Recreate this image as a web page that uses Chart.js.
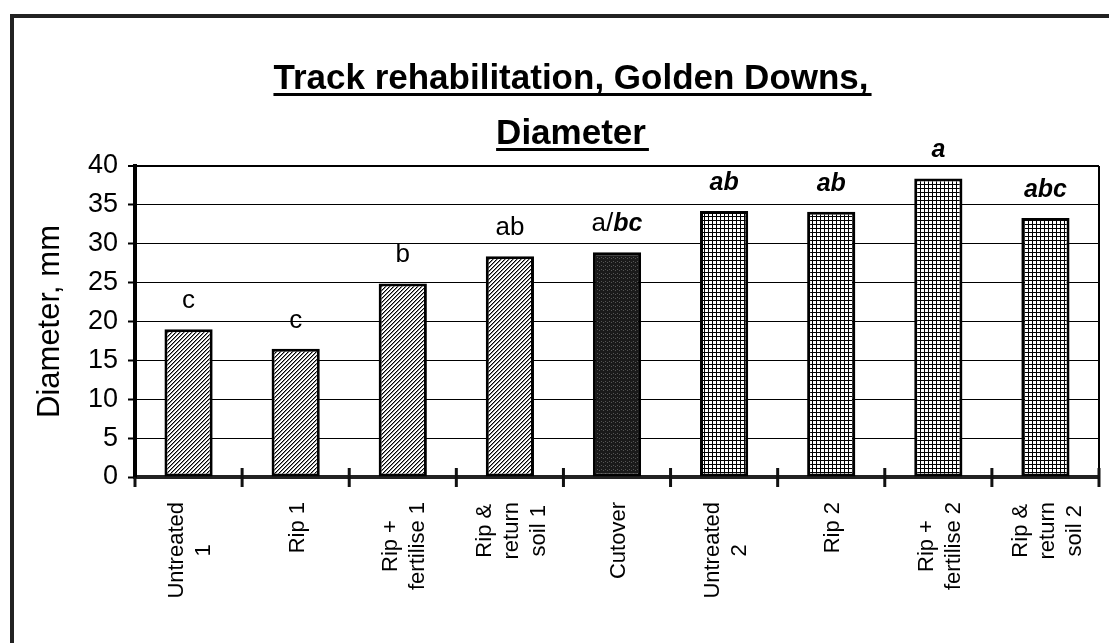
<!DOCTYPE html>
<html><head><meta charset="utf-8">
<script src="https://cdn.jsdelivr.net/npm/chart.js@4.4.1/dist/chart.umd.min.js"></script>
<style>html,body{margin:0;padding:0;background:#fff;} canvas{display:block;}</style>
</head><body>
<canvas id="c" width="1109" height="643"></canvas>
<script>
// ---------- data ----------
const categories = [
  ['Untreated','1'], ['Rip 1'], ['Rip +','fertilise 1'], ['Rip &','return','soil 1'],
  ['Cutover'], ['Untreated','2'], ['Rip 2'], ['Rip +','fertilise 2'], ['Rip &','return','soil 2']
];
const diameters = [19.0, 16.5, 24.9, 28.4, 28.9, 34.2, 34.1, 38.4, 33.3];
const lettersPlain      = ['c','c','b','ab','a/','','','',''];
const lettersBoldItalic = ['','','','','bc','ab','ab','a','abc'];
const fillKinds = ['hatch','hatch','hatch','hatch','dark','grid','grid','grid','grid'];
const yTickValues = [0,5,10,15,20,25,30,35,40];
const titleLines = ['Track rehabilitation, Golden Downs,','Diameter'];
const yAxisTitle = 'Diameter, mm';

// ---------- styles ----------
const FONT = '"Liberation Sans", Arial, Helvetica, sans-serif';

function makePattern(kind){
  const t = document.createElement('canvas');
  t.width = 4; t.height = 4;
  const g = t.getContext('2d');
  if (kind === 'hatch') {
    g.fillStyle = '#fff'; g.fillRect(0,0,4,4);
    g.fillStyle = '#000';
    for (let i=0;i<4;i++) g.fillRect(i, 3-i, 1, 1);
    g.fillStyle = '#888';
    for (let i=0;i<4;i++) g.fillRect(i, (4-i)%4, 1, 1);
  } else if (kind === 'grid') {
    g.fillStyle = '#fff'; g.fillRect(0,0,4,4);
    g.fillStyle = '#000';
    g.fillRect(0,0,4,1); g.fillRect(0,0,1,4);
  } else {
    g.fillStyle = '#1a1a1a'; g.fillRect(0,0,4,4);
    g.fillStyle = '#555';
    g.fillRect(1,1,1,1); g.fillRect(3,2,1,1);
  }
  return g.createPattern(t, 'repeat');
}
const patterns = {hatch: makePattern('hatch'), grid: makePattern('grid'), dark: makePattern('dark')};

const decor = {
  id: 'decor',
  beforeDraw(chart){
    const ctx = chart.ctx;
    ctx.save();
    ctx.fillStyle = '#fff';
    ctx.fillRect(0,0,chart.width,chart.height);
    ctx.strokeStyle = '#222';
    ctx.lineWidth = 4;
    ctx.beginPath();
    ctx.moveTo(12, chart.height + 10);
    ctx.lineTo(12, 16);
    ctx.lineTo(chart.width + 10, 16);
    ctx.stroke();
    ctx.restore();
  },
  afterDatasetsDraw(chart){
    const ctx = chart.ctx;
    const meta = chart.getDatasetMeta(0);
    ctx.save();
    ctx.fillStyle = '#000';
    ctx.textBaseline = 'alphabetic';
    ctx.textAlign = 'left';
    meta.data.forEach((bar, i) => {
      const fPlain = '26px ' + FONT;
      const fBI = 'italic bold 25px ' + FONT;
      ctx.font = fPlain; const w1 = ctx.measureText(lettersPlain[i]).width;
      ctx.font = fBI; const w2 = ctx.measureText(lettersBoldItalic[i]).width;
      let x = bar.x - (w1 + w2) / 2;
      const y = bar.y - 21;
      ctx.font = fPlain; ctx.fillText(lettersPlain[i], x, y);
      ctx.font = fBI; ctx.fillText(lettersBoldItalic[i], x + w1, y);
    });
    ctx.restore();
  },
  afterDraw(chart){
    const ctx = chart.ctx;
    const area = chart.chartArea;
    const xs = chart.scales.x;
    ctx.save();
    // right border of plot
    ctx.strokeStyle = '#000';
    ctx.lineWidth = 2;
    ctx.beginPath();
    ctx.moveTo(area.right, area.top);
    ctx.lineTo(area.right, area.bottom);
    ctx.stroke();
    // category boundary ticks
    ctx.strokeStyle = '#111';
    ctx.lineWidth = 3;
    const n = categories.length;
    for (let i = 0; i <= n; i++) {
      let bx;
      if (i === 0) bx = area.left;
      else if (i === n) bx = area.right;
      else bx = (xs.getPixelForValue(i-1) + xs.getPixelForValue(i)) / 2;
      ctx.beginPath();
      ctx.moveTo(bx, area.bottom - (i === 0 ? 0 : 9));
      ctx.lineTo(bx, area.bottom + 10);
      ctx.stroke();
    }
    // rotated category labels
    ctx.fillStyle = '#000';
    ctx.font = '22px ' + FONT;
    ctx.textAlign = 'center';
    ctx.textBaseline = 'middle';
    const lh = 27;
    categories.forEach((lines, i) => {
      const cx = xs.getPixelForValue(i) + 2;
      const maxW = Math.max(...lines.map(l => ctx.measureText(l).width));
      const cy = area.bottom + 25 + maxW / 2;
      ctx.save();
      ctx.translate(cx, cy);
      ctx.rotate(-Math.PI / 2);
      lines.forEach((l, j) => {
        ctx.fillText(l, 0, (j - (lines.length - 1) / 2) * lh);
      });
      ctx.restore();
    });
    // title
    ctx.font = 'bold 35px ' + FONT;
    ctx.textAlign = 'left';
    ctx.textBaseline = 'alphabetic';
    const tcx = 571;
    const baselines = [89, 144];
    titleLines.forEach((t, k) => {
      const w = ctx.measureText(t).width;
      const x0 = tcx - w / 2;
      ctx.fillText(t, x0, baselines[k]);
      ctx.fillRect(x0, baselines[k] + 4, w + 3, 3);
    });
    ctx.restore();
  }
};

new Chart(document.getElementById('c'), {
  type: 'bar',
  data: {
    labels: categories,
    datasets: [{
      data: diameters,
      backgroundColor: fillKinds.map(k => patterns[k]),
      borderColor: '#000',
      borderWidth: 3,
      borderSkipped: false,
      barPercentage: 0.45,
      categoryPercentage: 1.0
    }]
  },
  options: {
    responsive: false,
    animation: false,
    devicePixelRatio: 1,
    layout: { padding: { top: 166, right: 10, left: 0, bottom: 0 } },
    plugins: { legend: { display: false }, tooltip: { enabled: false }, title: { display: false } },
    scales: {
      x: {
        afterFit(s){ s.height = 166; },
        ticks: { display: false },
        grid: { display: false },
        border: { display: true, width: 4, color: '#222' }
      },
      y: {
        min: 0, max: 40,
        afterBuildTicks(s){ s.ticks = yTickValues.map(v => ({value: v})); },
        afterFit(s){ s.width = 135; },
        ticks: { font: { size: 27, family: FONT }, color: '#000', padding: 10 },
        grid: {
          color: '#000',
          lineWidth: c => (c.tick && c.tick.value === 40) ? 2 : 1,
          tickLength: 7, tickWidth: 2, tickColor: '#000'
        },
        border: { display: true, width: 4, color: '#000' },
        title: { display: true, text: yAxisTitle, font: { size: 31, family: FONT }, color: '#000', padding: { top: 32, bottom: 0 } }
      }
    }
  },
  plugins: [decor]
});
</script>
</body></html>
